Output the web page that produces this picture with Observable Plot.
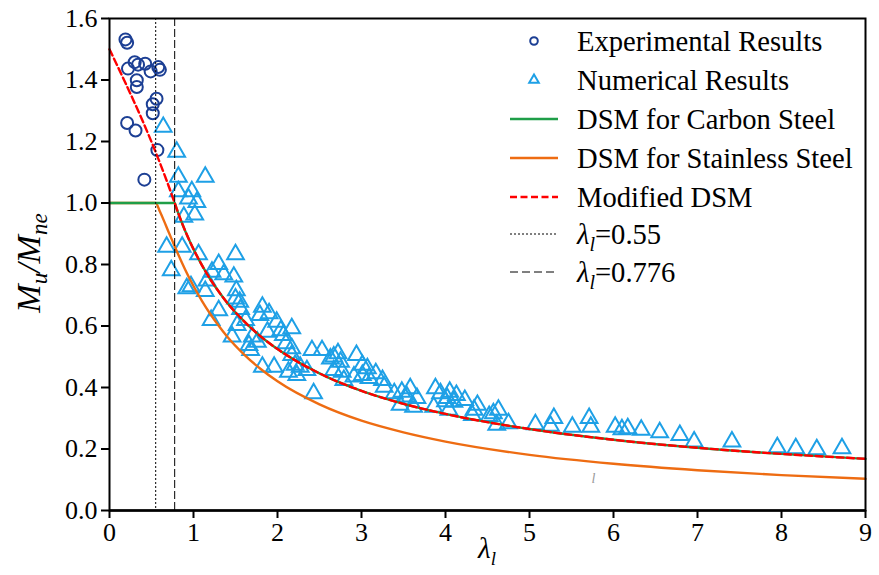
<!DOCTYPE html>
<html>
<head>
<meta charset="utf-8">
<script src="https://cdn.jsdelivr.net/npm/d3@7"></script>
<script src="https://cdn.jsdelivr.net/npm/@observablehq/plot@0.6"></script>
<style>
  html, body { margin: 0; padding: 0; background: #fff; }
  #chart { width: 879px; height: 575px; }
  #chart svg, #chart svg text { font-family: 'Liberation Serif', 'Times New Roman', 'DejaVu Serif', serif !important; }
</style>
</head>
<body>
<div id="chart"></div>
<script>
// ---------- data ----------
const xTicks = [0, 1, 2, 3, 4, 5, 6, 7, 8, 9];
const yTicks = [0.0, 0.2, 0.4, 0.6, 0.8, 1.0, 1.2, 1.4, 1.6];

const expLambda = [0.19, 0.21, 0.30, 0.34, 0.425, 0.22, 0.49, 0.58, 0.60, 0.325, 0.325, 0.56, 0.515, 0.515, 0.21, 0.31, 0.57, 0.415];
const expRatio  = [1.532, 1.521, 1.458, 1.450, 1.453, 1.437, 1.428, 1.442, 1.433, 1.399, 1.377, 1.339, 1.321, 1.292, 1.260, 1.236, 1.172, 1.076];

const numLambda = [
  0.64, 0.80, 0.82, 1.14, 0.82, 0.98, 0.94, 1.04, 0.885, 1.015, 0.68, 0.865, 1.06, 1.50, 0.735, 1.30, 1.22, 1.36, 1.48, 0.92,
  0.97, 1.16, 1.14, 1.51, 1.50, 1.55, 1.30, 1.21, 1.56, 1.62, 1.82, 1.79, 1.90, 1.52,
  1.99, 2.04, 2.17, 2.07, 1.46, 1.70, 1.88, 1.66, 1.76, 2.10, 2.17, 1.68, 2.41, 2.53, 2.63, 2.17, 1.82, 1.96, 2.13, 2.23,
  2.27, 2.35, 2.21, 2.43,
  2.67, 2.72, 2.75, 2.94, 3.01, 3.07, 3.17, 3.25, 3.27, 2.67, 2.77, 2.91, 3.01, 3.09, 2.79, 3.39, 3.48, 3.58, 3.54, 3.66,
  3.46, 3.62, 3.88, 3.86, 4.02, 4.04,
  3.94, 4.05, 4.13, 4.00, 4.10, 4.23, 4.38, 4.34, 4.32, 4.63, 4.57, 4.52, 4.61, 4.75, 5.07, 5.29, 5.25, 5.51, 5.71, 5.73,
  6.02, 6.10, 6.17, 6.33, 6.55, 6.79, 6.96, 7.41, 7.95, 8.17, 8.42, 8.72
];
const numRatio = [
  1.247, 1.166, 1.085, 1.085, 1.038, 1.038, 1.014, 1.003, 0.955, 0.962, 0.857, 0.857, 0.833, 0.833, 0.781, 0.801, 0.776, 0.768, 0.760, 0.722,
  0.729, 0.747, 0.713, 0.716, 0.689, 0.678, 0.651, 0.619, 0.655, 0.619, 0.662, 0.635, 0.641, 0.603,
  0.613, 0.586, 0.592, 0.570, 0.565, 0.565, 0.581, 0.538, 0.548, 0.543, 0.527, 0.521, 0.521, 0.521, 0.494, 0.505, 0.467, 0.467, 0.451, 0.440,
  0.467, 0.456, 0.473, 0.381,
  0.500, 0.511, 0.483, 0.505, 0.473, 0.462, 0.446, 0.424, 0.402, 0.456, 0.451, 0.435, 0.440, 0.430, 0.424, 0.381, 0.386, 0.397, 0.370, 0.365,
  0.343, 0.337, 0.397, 0.337, 0.365, 0.327,
  0.381, 0.386, 0.375, 0.355, 0.353, 0.359, 0.343, 0.327, 0.310, 0.327, 0.316, 0.307, 0.278, 0.283, 0.280, 0.300, 0.275, 0.272, 0.300, 0.272,
  0.272, 0.264, 0.267, 0.262, 0.254, 0.245, 0.224, 0.224, 0.205, 0.202, 0.199, 0.202
];

// DSM for carbon steel
const carbonLambda = [0, 0.776, 0.8, 0.85, 0.9, 0.95, 1.0, 1.1, 1.2, 1.3, 1.4, 1.6, 1.8, 2.0, 2.5, 3, 3.5, 4, 5, 6, 7, 8, 9];
const carbonRatio  = [1.0, 1.0, 0.981, 0.944, 0.910, 0.879, 0.850, 0.798, 0.752, 0.712, 0.676, 0.616, 0.566, 0.525, 0.446, 0.389, 0.347, 0.314, 0.265, 0.230, 0.204, 0.184, 0.168];
// DSM for stainless steel
const stainLambda = [0, 0.55, 0.6, 0.65, 0.7, 0.75, 0.8, 0.9, 1.0, 1.1, 1.2, 1.3, 1.4, 1.6, 1.8, 2.0, 2.5, 3, 3.5, 4, 5, 6, 7, 8, 9];
const stainRatio  = [1.0, 1.0, 0.972, 0.941, 0.908, 0.876, 0.844, 0.784, 0.730, 0.682, 0.639, 0.601, 0.566, 0.508, 0.460, 0.420, 0.345, 0.292, 0.254, 0.224, 0.181, 0.152, 0.131, 0.115, 0.103];
// Modified DSM: straight part, then follows carbon-steel curve
const modLambda = [0, 0.776, 0.8, 0.85, 0.9, 0.95, 1.0, 1.1, 1.2, 1.3, 1.4, 1.6, 1.8, 2.0, 2.5, 3, 3.5, 4, 5, 6, 7, 8, 9];
const modRatio  = [1.5, 1.0, 0.981, 0.944, 0.910, 0.879, 0.850, 0.798, 0.752, 0.712, 0.676, 0.616, 0.566, 0.525, 0.446, 0.389, 0.347, 0.314, 0.265, 0.230, 0.204, 0.184, 0.168];

const limitLambda = [0.55, 0.776];
const strayMark = [{x: 5.76, y: 0.105, t: "l"}];

// ---------- tables ----------
const zip = (xs, ys) => xs.map((x, i) => ({x, y: ys[i]}));
const expData = zip(expLambda, expRatio);
const numData = zip(numLambda, numRatio);
const carbon = zip(carbonLambda, carbonRatio);
const stain = zip(stainLambda, stainRatio);
const modDSM = zip(modLambda, modRatio);

const C = {
  exp: "#1c3f94", num: "#1ea0e6", green: "#1f9e48", orange: "#ee6c12", red: "#ff0000"
};
const FONT = "'Liberation Serif', 'Times New Roman', 'DejaVu Serif', serif";

const svg = Plot.plot({
  width: 879,
  height: 575,
  marginTop: 18,
  marginRight: 14,
  marginBottom: 65,
  marginLeft: 109,
  style: {fontFamily: FONT, fontSize: "26px", background: "white", color: "black"},
  x: {domain: [0, 9]},
  y: {domain: [0, 1.6]},
  marks: [
    Plot.dot(expData, {x: "x", y: "y", r: 6, stroke: C.exp, strokeWidth: 2, fill: "none"}),
    Plot.dot(numData, {x: "x", y: "y", symbol: "triangle", r: 6.2, stroke: C.num, strokeWidth: 2, fill: "none"}),
    Plot.line(stain, {x: "x", y: "y", stroke: C.orange, strokeWidth: 2.4, curve: "monotone-x"}),
    Plot.line(carbon, {x: "x", y: "y", stroke: C.green, strokeWidth: 2.4, curve: "monotone-x"}),
    Plot.line(modDSM, {x: "x", y: "y", stroke: C.red, strokeWidth: 2.4, strokeDasharray: "7,3.5", curve: "monotone-x"}),
    Plot.ruleX([limitLambda[0]], {stroke: "black", strokeWidth: 1, strokeDasharray: "2,2"}),
    Plot.ruleX([limitLambda[1]], {stroke: "black", strokeWidth: 1, strokeDasharray: "8,3"}),
    Plot.text(strayMark, {x: "x", y: "y", text: "t", fontSize: 14, fontStyle: "italic", fill: "#999"}),
    Plot.frame({stroke: "black", strokeWidth: 2}),
    Plot.axisX({ticks: xTicks, tickSize: 8, tickPadding: 4, tickFormat: d => String(d), label: null, fontSize: 26, strokeWidth: 2}),
    Plot.axisY({ticks: yTicks, tickSize: 8, tickPadding: 4, tickFormat: d3.format(".1f"), label: null, fontSize: 26, strokeWidth: 2}),
    Plot.ruleY([0], {stroke: "black", strokeWidth: 2.5})
  ]
});

document.getElementById("chart").appendChild(svg);

// ---------- axis titles & legend (real text) ----------
const s = d3.select(svg);
const g = s.append("g").attr("font-family", FONT).attr("fill", "black").attr("text-anchor", "start");

// y axis title
const yl = g.append("text")
  .attr("transform", "translate(40,263) rotate(-90)")
  .attr("text-anchor", "middle")
  .attr("font-size", 34)
  .attr("font-style", "italic");
yl.append("tspan").text("M");
yl.append("tspan").attr("font-size", 23).attr("dy", 7).text("u");
yl.append("tspan").attr("dy", -7).text("/M");
yl.append("tspan").attr("font-size", 23).attr("dy", 7).text("ne");

// x axis title
const xl = g.append("text")
  .attr("x", 487).attr("y", 558)
  .attr("text-anchor", "middle")
  .attr("font-size", 29)
  .attr("font-style", "italic");
xl.append("tspan").text("λ");
xl.append("tspan").attr("font-size", 19).attr("dy", 7).text("l");

// legend
const legendRows = [
  {type: "circle", label: "Experimental Results"},
  {type: "triangle", label: "Numerical Results"},
  {type: "line", color: C.green, dash: null, label: "DSM for Carbon Steel"},
  {type: "line", color: C.orange, dash: null, label: "DSM for Stainless Steel"},
  {type: "line", color: C.red, dash: "7,3.5", label: "Modified DSM"},
  {type: "line", color: "black", dash: "2,2", width: 1, label: null, lam: "=0.55"},
  {type: "line", color: "black", dash: "8,4", width: 1, label: null, lam: "=0.776"}
];
const rowY = [41, 80, 119, 158, 197, 234, 272];
const lg = g.append("g");
legendRows.forEach((r, i) => {
  const y = rowY[i];
  if (r.type === "circle") {
    lg.append("circle").attr("cx", 534).attr("cy", y).attr("r", 3.8)
      .attr("fill", "none").attr("stroke", C.exp).attr("stroke-width", 2);
  } else if (r.type === "triangle") {
    const sym = d3.symbol(d3.symbolTriangle, 40)();
    lg.append("path").attr("d", sym).attr("transform", `translate(534,${y})`)
      .attr("fill", "none").attr("stroke", C.num).attr("stroke-width", 2);
  } else {
    lg.append("line").attr("x1", 510).attr("x2", 558).attr("y1", y).attr("y2", y)
      .attr("stroke", r.color).attr("stroke-width", r.width || 2.4)
      .attr("stroke-dasharray", r.dash);
  }
  const t = lg.append("text").attr("x", 577).attr("y", y + 10).attr("font-size", 28.6).attr("text-anchor", "start");
  if (r.label) {
    t.text(r.label);
  } else {
    t.append("tspan").attr("font-style", "italic").text("λ");
    t.append("tspan").attr("font-style", "italic").attr("font-size", 20).attr("dy", 7).text("l");
    t.append("tspan").attr("dy", -7).text(r.lam);
  }
});
</script>
</body>
</html>
